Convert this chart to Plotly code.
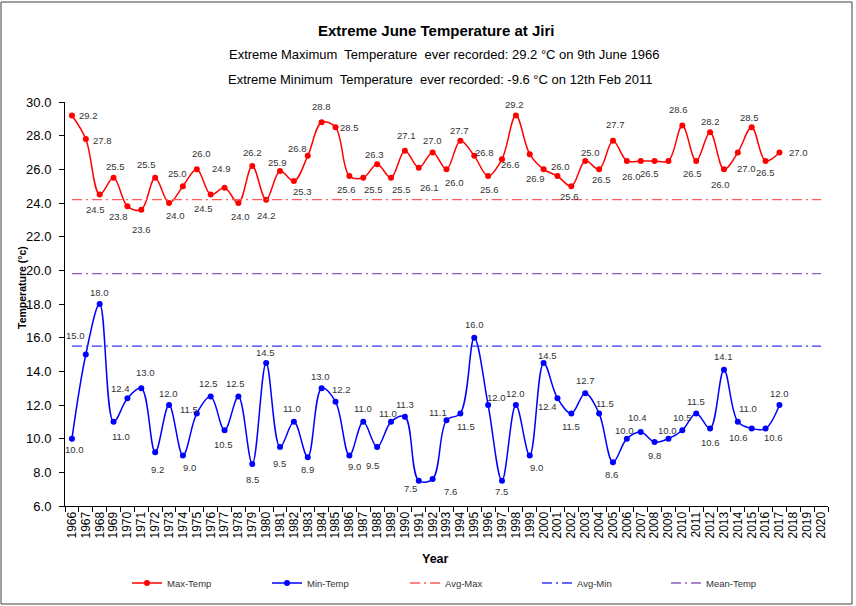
import plotly.graph_objects as go

# ---------------- data ----------------
year_labels = [str(y) for y in range(1966, 2021)]
data_years = year_labels[:52]

max_temp = [29.2, 27.8, 24.5, 25.5, 23.8, 23.6, 25.5, 24.0, 25.0, 26.0,
            24.5, 24.9, 24.0, 26.2, 24.2, 25.9, 25.3, 26.8, 28.8, 28.5,
            25.6, 25.5, 26.3, 25.5, 27.1, 26.1, 27.0, 26.0, 27.7, 26.8,
            25.6, 26.6, 29.2, 26.9, 26.0, 25.6, 25.0, 26.5, 26.0, 27.7,
            26.5, 26.5, 26.5, 26.5, 28.6, 26.5, 28.2, 26.0, 27.0, 28.5,
            26.5, 27.0]

min_temp = [10.0, 15.0, 18.0, 11.0, 12.4, 13.0, 9.2, 12.0, 9.0, 11.5,
            12.5, 10.5, 12.5, 8.5, 14.5, 9.5, 11.0, 8.9, 13.0, 12.2,
            9.0, 11.0, 9.5, 11.0, 11.3, 7.5, 7.6, 11.1, 11.5, 16.0,
            12.0, 7.5, 12.0, 9.0, 14.5, 12.4, 11.5, 12.7, 11.5, 8.6,
            10.0, 10.4, 9.8, 10.0, 10.5, 11.5, 10.6, 14.1, 11.0, 10.6,
            10.6, 12.0]

avg_max = 24.2
avg_min = 15.5
mean_temp = 19.8

# label placement (pixel offsets of label centre from the point: dx right, dy down)
max_label_offsets = [
    (17, 0), (17, 1), (-4, 15), (2, -11), (-9, 10), (0, 20), (-9, -13), (6, 12), (-5, -13), (5, -16),
    (-7, 14), (-3, -19), (2, 13), (0, -13), (0, 16), (-3, -9), (9, 10), (-10, -7), (0, -16), (14, 0),
    (-3, 13), (10, 12), (-3, -10), (10, 12), (2, -15), (11, 20), (0, -12), (8, 13), (-1, -10), (10, -3),
    (1, 13), (9, 5), (-1, -11), (6, 24), (17, -3), (12, 20), (19, -34), (16, 19), (32, 7), (3, -16),
    (23, 13), None, None, None, (-4, -16), (-4, 13), (0, -11), (-3, 15), (9, 16), (-2, -10),
    (0, 12), (19, 0)]

min_label_offsets = [
    (3, 11), (-10, -19), (0, -12), (7, 15), (-7, -10), (4, -16), (2, 17), (-1, -12), (7, 12), (-8, -4),
    (-2, -13), (-1, 14), (-3, -13), (0, 16), (-1, -10), (-1, 16), (-2, -13), (0, 12), (-1, -12), (6, -12),
    (5, 11), (0, -13), (-5, 18), (-3, -8), (0, -12), (-8, 8), (18, 12), (-9, -8), (6, 13), (0, -13),
    (8, -8), (0, 11), (0, -12), (7, 12), (4, -7), (-10, 8), (0, 13), (0, -13), (6, -10), (-1, 12),
    (-2, -8), (-3, -14), (0, 13), (-1, -8), (0, -13), (0, -12), (0, 14), (0, -13), (10, -13), (-13, 9),
    (8, 9), (0, -12)]

# ---------------- geometry ----------------
W, H = 856, 606
ML, MR, MT, MB = 65, 28, 102, 100
PW = W - ML - MR
PH = H - MT - MB


def px(x):
    return (x - ML) / PW


def py(y):
    return (H - MB - y) / PH


FONT = "Liberation Sans, Arial, sans-serif"
LABEL_COLOR = "#333333"

fig = go.Figure()

fig.add_trace(go.Scatter(
    x=data_years, y=max_temp, name="Max-Temp", mode="lines+markers",
    line=dict(color="#FF0000", width=1.5, shape="spline", smoothing=1.0),
    marker=dict(color="#FF0000", size=6), legend="legend"))
fig.add_trace(go.Scatter(
    x=data_years, y=min_temp, name="Min-Temp", mode="lines+markers",
    line=dict(color="#0000FF", width=1.5, shape="spline", smoothing=1.0),
    marker=dict(color="#0000FF", size=6), legend="legend2"))
fig.add_trace(go.Scatter(
    x=year_labels, y=[avg_max] * len(year_labels), name="Avg-Max", mode="lines",
    line=dict(color="#FF5A5A", width=1.3, dash="10px,4px,2px,4px"), legend="legend3"))
fig.add_trace(go.Scatter(
    x=year_labels, y=[avg_min] * len(year_labels), name="Avg-Min", mode="lines",
    line=dict(color="#3333FF", width=1.3, dash="10px,4px,2px,4px"), legend="legend4"))
fig.add_trace(go.Scatter(
    x=year_labels, y=[mean_temp] * len(year_labels), name="Mean-Temp", mode="lines",
    line=dict(color="#8E5CC0", width=1.3, dash="10px,4px,2px,4px"), legend="legend5"))

annotations = []
for series, offsets in ((max_temp, max_label_offsets), (min_temp, min_label_offsets)):
    for idx, (val, off) in enumerate(zip(series, offsets)):
        if off is None:
            continue
        dx, dy = off
        annotations.append(dict(
            x=idx, y=val, xref="x", yref="y", text=f"{val:.1f}", showarrow=False,
            xanchor="center", yanchor="middle",
            xshift=dx, yshift=-dy, font=dict(family=FONT, size=9.5, color=LABEL_COLOR)))

# titles
common_txt = dict(xref="paper", yref="paper", showarrow=False, xanchor="center", yanchor="middle")
annotations += [
    dict(x=px(436), y=py(30), text="<b>Extreme June Temperature at Jiri</b>",
         font=dict(family=FONT, size=15, color="#000000"), **common_txt),
    dict(x=px(444), y=py(55),
         text="Extreme Maximum  Temperature  ever recorded: 29.2 °C on 9th June 1966",
         font=dict(family=FONT, size=13, color="#000000"), **common_txt),
    dict(x=px(440), y=py(80),
         text="Extreme Minimum  Temperature  ever recorded: -9.6 °C on 12th Feb 2011",
         font=dict(family=FONT, size=13, color="#000000"), **common_txt),
    dict(x=px(22), y=py(288), textangle=-90, text="<b>Temperature (°c)</b>",
         font=dict(family=FONT, size=10.5, color="#000000"), **common_txt),
    dict(x=px(435), y=py(559), text="<b>Year</b>",
         font=dict(family=FONT, size=12.5, color="#000000"), **common_txt),
]

legend_text_x = [167, 307, 445, 577, 706]
legend_common = dict(orientation="h", yanchor="middle", xanchor="left",
                     xref="container", yref="container",
                     bgcolor="rgba(0,0,0,0)", borderwidth=0,
                     font=dict(family=FONT, size=9.5, color=LABEL_COLOR))
legends = {}
for i, tx in enumerate(legend_text_x):
    key = "legend" if i == 0 else f"legend{i + 1}"
    legends[key] = dict(x=(tx - 40) / W, y=1 - 583 / H, **legend_common)

fig.update_layout(
    width=W, height=H,
    margin=dict(l=ML, r=MR, t=MT, b=MB, autoexpand=False),
    paper_bgcolor="white", plot_bgcolor="white",
    font=dict(family=FONT, color="#000000"),
    showlegend=True,
    annotations=annotations,
    shapes=[dict(type="rect", xref="paper", yref="paper",
                 x0=px(1), x1=px(852), y0=py(604), y1=py(2),
                 line=dict(color="#404040", width=1), fillcolor="rgba(0,0,0,0)",
                 layer="below")],
    xaxis=dict(type="category", categoryorder="array", categoryarray=year_labels,
               range=[-0.5, len(year_labels) - 0.5], tickmode="array",
               tickvals=year_labels, ticktext=year_labels, automargin=False,
               tickson="boundaries", ticks="outside", ticklen=5, tickcolor="#000000",
               tickangle=-90, tickfont=dict(family=FONT, size=12, color="#000000"),
               showline=True, linecolor="#000000", linewidth=1,
               showgrid=False, zeroline=False, fixedrange=True),
    yaxis=dict(range=[6, 30], tick0=6, dtick=2, tickformat=".1f", automargin=False,
               ticks="outside", ticklen=5, tickcolor="#000000", ticklabelstandoff=5,
               tickfont=dict(family=FONT, size=13, color="#000000"),
               showline=True, linecolor="#000000", linewidth=1,
               showgrid=False, zeroline=False, fixedrange=True),
    **legends,
)

fig.write_html("out.html", config={"displayModeBar": False},
               post_script="document.body.style.margin='0';")
